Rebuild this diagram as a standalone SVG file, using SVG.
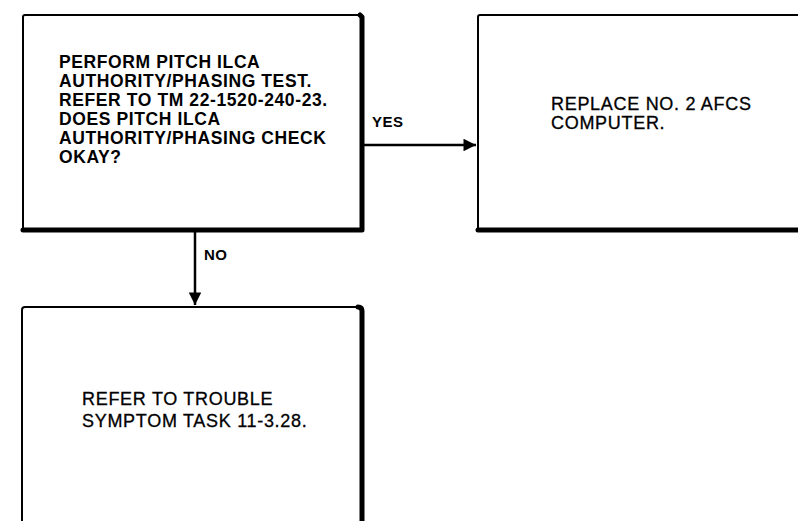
<svg xmlns="http://www.w3.org/2000/svg" width="798" height="521" viewBox="0 0 798 521">
<defs>
<style>
.thin{fill:#fff;stroke:#000;stroke-width:2}
.thick{fill:none;stroke:#000;stroke-width:5;stroke-linejoin:round;stroke-linecap:round}
.t1{font-family:"Liberation Sans",Arial,Helvetica,sans-serif;font-weight:bold;font-size:17.5px;letter-spacing:0.6px;fill:#000}
.t2{font-family:"Liberation Sans",Arial,Helvetica,sans-serif;font-size:18px;letter-spacing:0.7px;fill:#000;stroke:#000;stroke-width:0.3}
.lbl{font-family:"Liberation Sans",Arial,Helvetica,sans-serif;font-weight:bold;font-size:15px;letter-spacing:0.5px;fill:#000}
.conn{stroke:#000;stroke-width:2.5;fill:none}
</style>
<marker id="arr" viewBox="0 0 10 10" refX="10" refY="5" markerWidth="8.5" markerHeight="5" markerUnits="strokeWidth" orient="auto">
<path d="M0,0 L10,5 L0,10 z" fill="#000"/>
</marker>
</defs>
<rect width="798" height="521" fill="#fff"/>
<g id="node-test">
<rect class="thin" x="23" y="15" width="339" height="215" rx="2"/>
<path class="thick" d="M360,15 L362,17 L362,230 L23,230"/>
<text class="t1" x="59" y="68">PERFORM PITCH ILCA</text>
<text class="t1" x="59" y="87">AUTHORITY/PHASING TEST.</text>
<text class="t1" x="59" y="106">REFER TO TM 22-1520-240-23.</text>
<text class="t1" x="59" y="125">DOES PITCH ILCA</text>
<text class="t1" x="59" y="144">AUTHORITY/PHASING CHECK</text>
<text class="t1" x="59" y="163">OKAY?</text>
</g>
<g id="node-replace">
<rect class="thin" x="478" y="15" width="340" height="215" rx="2"/>
<path class="thick" d="M478,230 L800,230"/>
<text class="t2" x="551" y="110">REPLACE NO. 2 AFCS</text>
<text class="t2" x="551" y="129">COMPUTER.</text>
</g>
<g id="node-trouble">
<rect class="thin" x="22" y="307" width="340" height="240" rx="3"/>
<path class="thick" d="M358,307 Q362,307 362,311 L362,525"/>
<text class="t2" x="82" y="405">REFER TO TROUBLE</text>
<text class="t2" x="82" y="427">SYMPTOM TASK 11-3.28.</text>
</g>
<g id="connectors">
<line class="conn" x1="364" y1="145" x2="476" y2="145" marker-end="url(#arr)"/>
<line class="conn" x1="195" y1="232" x2="195" y2="305" marker-end="url(#arr)"/>
<text class="lbl" x="372" y="127">YES</text>
<text class="lbl" x="204" y="260">NO</text>
</g>
</svg>
